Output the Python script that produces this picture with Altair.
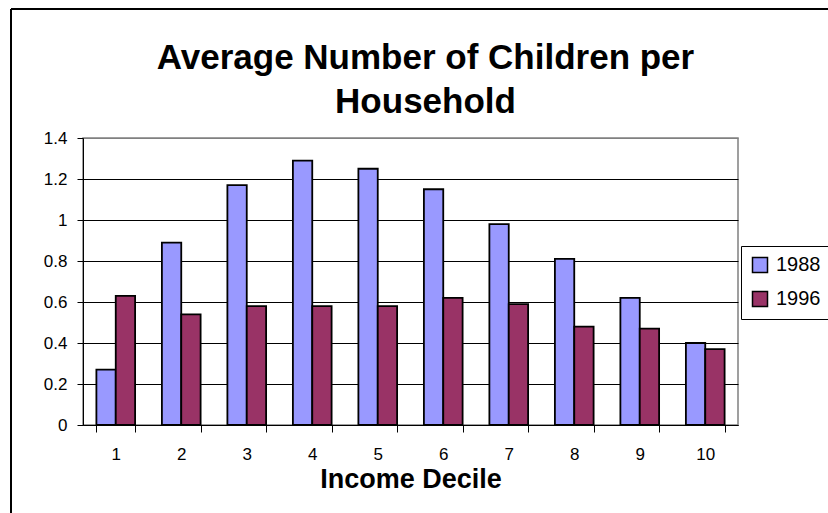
import altair as alt
import pandas as pd

deciles = [1, 2, 3, 4, 5, 6, 7, 8, 9, 10]
years = ["1988", "1996"]
values_1988 = [0.27, 0.89, 1.17, 1.29, 1.25, 1.15, 0.98, 0.81, 0.62, 0.40]
values_1996 = [0.63, 0.54, 0.58, 0.58, 0.58, 0.62, 0.59, 0.48, 0.47, 0.37]
y_ticks = [0, 0.2, 0.4, 0.6, 0.8, 1.0, 1.2, 1.4]
colors = ["#9999FF", "#993366"]

rows = []
for d, a, b in zip(deciles, values_1988, values_1996):
    rows.append({"decile": d, "year": years[0], "value": a})
    rows.append({"decile": d, "year": years[1], "value": b})
df = pd.DataFrame(rows)

FONT = "Liberation Sans"

bars = alt.Chart(df).mark_bar(stroke="black", strokeWidth=1.8).encode(
    x=alt.X(
        "decile:O",
        title="Income Decile",
        scale=alt.Scale(paddingInner=0.409, paddingOuter=0.2045),
        axis=alt.Axis(
            labelAngle=0, tickBand="extent", tickSize=7, tickColor="black",
            domainColor="black", labelFontSize=17, labelFont=FONT, labelColor="black",
            labelPadding=14, titleFontSize=27, titleFont=FONT, titleFontWeight="bold",
            titleColor="black", titlePadding=4, grid=False,
        ),
    ),
    xOffset=alt.XOffset("year:N", scale=alt.Scale(domain=years, paddingInner=0, paddingOuter=0)),
    y=alt.Y(
        "value:Q",
        scale=alt.Scale(domain=[0, 1.4], nice=False),
        axis=alt.Axis(
            values=y_ticks, format="~g", title=None, tickSize=6, tickColor="black",
            domainColor="black", labelFontSize=17, labelFont=FONT, labelColor="black",
            labelPadding=10, grid=True,
            gridColor={"condition": {"test": "datum.value >= 1.4", "value": "#808080"}, "value": "black"},
            gridWidth=1,
        ),
    ),
    color=alt.Color(
        "year:N",
        scale=alt.Scale(domain=years, range=colors),
        legend=alt.Legend(
            title=None, orient="none", legendX=658, legendY=108,
            strokeColor="black", fillColor="white", padding=9,
            labelFontSize=20, labelFont=FONT, labelColor="black",
            symbolType="square", symbolSize=225, symbolStrokeColor="black",
            symbolStrokeWidth=1.5, rowPadding=12, labelOffset=6,
        ),
    ),
)

frame = pd.DataFrame({"k": [0]})
left_border = alt.Chart(frame).mark_rule(color="black", strokeWidth=2).encode(
    x=alt.value(-72), y=alt.value(-129), y2=alt.value(380)
)
top_border = alt.Chart(frame).mark_rule(color="black", strokeWidth=2).encode(
    x=alt.value(-72), x2=alt.value(750), y=alt.value(-129)
)

chart = alt.layer(bars, left_border, top_border).properties(
    width=655,
    height=287,
    autosize=alt.AutoSizeParams(type="none"),
    padding={"left": 83, "top": 138, "right": 90, "bottom": 88},
    background="white",
    title=alt.TitleParams(
        text=["Average Number of Children per", "Household"],
        fontSize=35, font=FONT, fontWeight="bold", color="black",
        anchor="middle", dx=15, offset=-112, lineHeight=44, frame="group",
    ),
).configure_view(stroke="#808080", strokeWidth=1.5)

chart.save("out.html", embed_options={"renderer": "svg", "actions": False})
